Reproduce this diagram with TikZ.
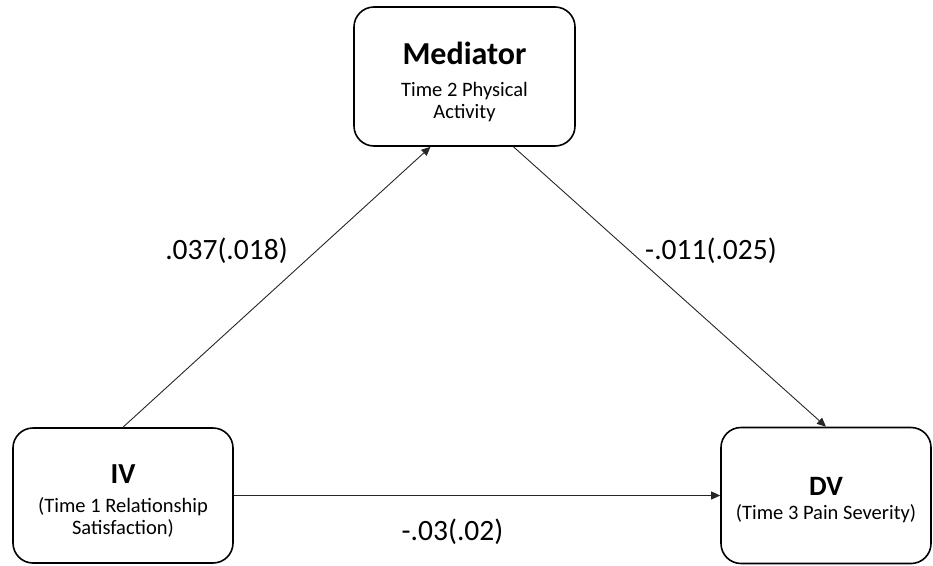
\documentclass[tikz,border=0pt]{standalone}
\usepackage{fontspec}
\setmainfont{Carlito}
\usetikzlibrary{arrows.meta, positioning, calc}
\tikzset{
    varbox/.style={
        rectangle,
        rounded corners=20pt,
        draw=black,
        line width=1.6pt,
        fill=white,
        align=center,
        font=\fontsize{20.5}{22}\selectfont
    },
    arrow/.style={
        -{Triangle[length=9pt,width=8pt]},
        line width=0.9pt,
        draw=black!85
    },
    coef/.style={
        font=\fontsize{29.5}{33}\selectfont
    }
}

\begin{document}
\begin{tikzpicture}[x=1pt, y=-1pt]

    \useasboundingbox (0,0) rectangle (933,565);

    % Mediator
    \node[varbox, minimum width=221pt, minimum height=139pt] (med) at (464.5,76.5)
        {\rule{0pt}{34pt}{\fontsize{32}{36}\selectfont\bfseries Mediator}\\[10pt]Time 2 Physical\\Activity};

    % IV
    \node[varbox, minimum width=220pt, minimum height=135pt] (iv) at (123,495.5)
        {\rule{0pt}{29pt}{\fontsize{29}{32}\selectfont\bfseries IV}\\[7pt](Time 1 Relationship\\Satisfaction)};

    % DV
    \node[varbox, minimum width=210pt, minimum height=136pt] (dv) at (826,495.5)
        {\rule{0pt}{28pt}{\fontsize{28}{32}\selectfont\bfseries DV}\\[2pt](Time 3 Pain Severity)};

    % Ends on the mediator box
    \coordinate (medin) at ($(med.south)+(-34,0)$);
    \coordinate (medout) at ($(med.south)+(49,0)$);

    % Arrows
    \draw[arrow] (iv.north) -- (medin);
    \draw[arrow] (medout) -- (dv.north);
    \draw[arrow] (iv.east) -- (dv.west);

    % Coefficients
    \node[coef] (a) at (226.5,251) {.037(.018)};
    \node[coef] (b) at (711,251) {-.011(.025)};
    \node[coef] (c) at (452.5,532) {-.03(.02)};

\end{tikzpicture}
\end{document}
